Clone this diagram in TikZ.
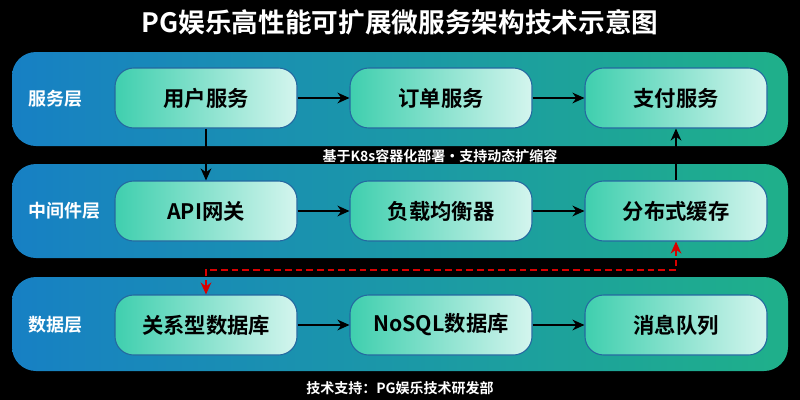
\documentclass[tikz,border=0pt]{standalone}
\usepackage{fontspec}
\setmainfont{Noto Sans CJK SC}[BoldFont={Noto Sans CJK SC Bold}]
\usetikzlibrary{arrows.meta}
\definecolor{lblue}{HTML}{1780C4}
\definecolor{lmid}{HTML}{19A6A8}
\definecolor{lgreen}{HTML}{1FB08A}
\definecolor{nlight}{HTML}{D4F5EE}
\definecolor{ndark}{HTML}{3FCFAE}
\definecolor{nborder}{HTML}{2468A0}
\begin{document}
\begin{tikzpicture}[x=0.75pt,y=-0.75pt,
  layer/.style={rounded corners=18pt,left color=lblue,middle color=lmid,right color=lgreen,draw=none},
  box/.style={rounded corners=14pt,minimum width=136.5pt,minimum height=45pt,left color=ndark,right color=nlight,draw=nborder,line width=0.8pt,font=\bfseries\fontsize{16}{19}\selectfont,text=black},
  lab/.style={text=white,font=\bfseries\fontsize{13.5}{16}\selectfont},
  arr/.style={-{Stealth[length=9pt,width=8pt]},line width=1.6pt,black}]
\fill[black] (0,0) rectangle (800,400);
\useasboundingbox (0,0) rectangle (800,400);
\node[text=white,font=\bfseries\fontsize{20}{24}\selectfont] (title) at (400,22) {PG娱乐高性能可扩展微服务架构技术示意图};
\fill[layer] (12,52) rectangle (788,146);
\fill[layer] (12,164) rectangle (788,258);
\fill[layer] (12,277) rectangle (788,371);
\node[lab] (l1) at (55,99) {服务层};
\node[lab] (l2) at (64,211) {中间件层};
\node[lab] (l3) at (55,325) {数据层};
\node[box] (a1) at (206,98) {用户服务};
\node[box] (a2) at (441,98) {订单服务};
\node[box] (a3) at (676,98) {支付服务};
\node[box] (b1) at (206,211) {API网关};
\node[box] (b2) at (441,211) {负载均衡器};
\node[box] (b3) at (676,211) {分布式缓存};
\node[box] (c1) at (206,325) {关系型数据库};
\node[box] (c2) at (441,325) {NoSQL数据库};
\node[box] (c3) at (676,325) {消息队列};
\draw[arr] (a1) -- (a2);
\draw[arr] (a2) -- (a3);
\draw[arr] (b1) -- (b2);
\draw[arr] (b2) -- (b3);
\draw[arr] (c1) -- (c2);
\draw[arr] (c2) -- (c3);
\draw[arr] (a1) -- (b1);
\draw[arr] (b3) -- (a3);
\coordinate (r1) at (206,270);
\coordinate (r2) at (676,270);
\draw[{Stealth[length=9pt,width=8pt]}-{Stealth[length=9pt,width=8pt]},red!85!black,line width=1.4pt,dash pattern=on 5pt off 3pt] (c1.north) -- (r1) -- (r2) -- (b3.south);
\node[text=white,font=\bfseries\fontsize{10.5}{12}\selectfont,fill=black,inner sep=1pt] (note) at (440,156) {基于K8s容器化部署·支持动态扩缩容};
\node[text=white,font=\bfseries\fontsize{10.5}{12}\selectfont] (foot) at (400,388) {技术支持：PG娱乐技术研发部};
\end{tikzpicture}
\end{document}
